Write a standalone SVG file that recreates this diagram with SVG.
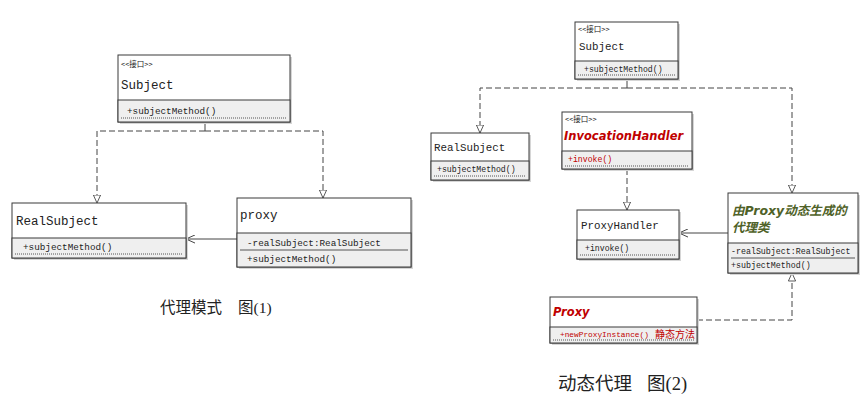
<svg xmlns="http://www.w3.org/2000/svg" width="866" height="407" viewBox="0 0 866 407">
<defs>
<style>
.bx{fill:#ffffff;stroke:#3a3a3a;stroke-width:1}
.sh{fill:#d6d6d6}
.cp{fill:#efefef;stroke:#3a3a3a;stroke-width:1}
.dl{stroke:#555;stroke-width:1;stroke-dasharray:1 1}
.sl{stroke:#555;stroke-width:1}
.st{font-family:"Noto Sans CJK SC",sans-serif;font-size:7.5px;fill:#222}
.nm{font-family:"Liberation Mono","Noto Sans CJK SC",monospace;fill:#222}
.mt{font-family:"Liberation Mono","Noto Sans CJK SC",monospace;fill:#222}
.bi{font-family:"DejaVu Sans","Noto Sans CJK SC",sans-serif;font-weight:bold;font-style:italic}
.red{fill:#c00000}
.grn{fill:#4f6228}
.cap{font-family:"Liberation Serif","Noto Sans CJK SC",serif;fill:#222}
.dash{fill:none;stroke:#444;stroke-width:1;stroke-dasharray:6 3}
.sol{fill:none;stroke:#444;stroke-width:1}
</style>
<marker id="tri" viewBox="0 0 10 10" refX="10" refY="5" markerWidth="9" markerHeight="8" markerUnits="userSpaceOnUse" orient="auto">
<path d="M0,0.5 L10,5 L0,9.5 z" fill="#fff" stroke="#444" stroke-width="1.1"/>
</marker>
<marker id="open" viewBox="0 0 10 10" refX="10" refY="5" markerWidth="11" markerHeight="9" markerUnits="userSpaceOnUse" orient="auto">
<path d="M0,0.5 L10,5 L0,9.5" fill="none" stroke="#444" stroke-width="1.1"/>
</marker>
</defs>
<rect width="866" height="407" fill="#ffffff"/>

<g id="connectors">
<path class="sol" d="M205,122 V131"/>
<path class="dash" d="M205,131 H97 V203" marker-end="url(#tri)"/>
<path class="dash" d="M205,131 H323 V198" marker-end="url(#tri)"/>
<path class="sol" d="M237,239 H186" marker-end="url(#open)"/>
<path class="sol" d="M627,79 V88"/>
<path class="dash" d="M627,88 H480 V133" marker-end="url(#tri)"/>
<path class="dash" d="M627,88 H792 V193" marker-end="url(#tri)"/>
<path class="dash" d="M627,169 V210" marker-end="url(#tri)"/>
<path class="sol" d="M728,233 H679" marker-end="url(#open)"/>
<path class="dash" d="M697,320 H792 V273" marker-end="url(#tri)"/>
</g>

<g id="subject1">
<rect class="sh" x="120" y="57" width="172" height="67"/>
<rect class="bx" x="118" y="55" width="172" height="67"/>
<rect class="cp" x="118" y="100" width="172" height="22"/>
<line class="dl" x1="121" y1="118" x2="287" y2="118"/>
<text class="st" x="121" y="67">&lt;&lt;接口&gt;&gt;</text>
<text class="nm" x="121" y="89" font-size="12.5">Subject</text>
<text class="mt" x="127" y="114" font-size="9.3">+subjectMethod()</text>
</g>

<g id="realsubject1">
<rect class="sh" x="14" y="205" width="174" height="55"/>
<rect class="bx" x="12" y="203" width="174" height="55"/>
<rect class="cp" x="12" y="238" width="174" height="20"/>
<line class="dl" x1="15" y1="254" x2="183" y2="254"/>
<text class="nm" x="16" y="225" font-size="12.5">RealSubject</text>
<text class="mt" x="23" y="250" font-size="9.3">+subjectMethod()</text>
</g>

<g id="proxy1">
<rect class="sh" x="239" y="200" width="174" height="69"/>
<rect class="bx" x="237" y="198" width="174" height="69"/>
<rect class="cp" x="237" y="233" width="174" height="34"/>
<line class="sl" x1="240" y1="250" x2="408" y2="250"/>
<text class="nm" x="240" y="219" font-size="12.5">proxy</text>
<text class="mt" x="247" y="246" font-size="9.3">-realSubject:RealSubject</text>
<text class="mt" x="247" y="262" font-size="9.3">+subjectMethod()</text>
</g>

<text id="caption1" class="cap" x="160" y="313" font-size="15.5">代理模式<tspan x="238">图(1)</tspan></text>

<g id="subject2">
<rect class="sh" x="577" y="24" width="103" height="57"/>
<rect class="bx" x="575" y="22" width="103" height="57"/>
<rect class="cp" x="575" y="61" width="103" height="18"/>
<line class="dl" x1="578" y1="75" x2="675" y2="75"/>
<text class="st" x="578" y="32">&lt;&lt;接口&gt;&gt;</text>
<text class="nm" x="579" y="50" font-size="10.8">Subject</text>
<text class="mt" x="584" y="72" font-size="8.2">+subjectMethod()</text>
</g>

<g id="realsubject2">
<rect class="sh" x="433" y="135" width="98" height="47"/>
<rect class="bx" x="431" y="133" width="98" height="47"/>
<rect class="cp" x="431" y="161" width="98" height="19"/>
<line class="dl" x1="434" y1="176" x2="526" y2="176"/>
<text class="nm" x="434" y="151" font-size="10.8">RealSubject</text>
<text class="mt" x="437" y="172" font-size="8.2">+subjectMethod()</text>
</g>

<g id="invocationhandler">
<rect class="sh" x="564" y="114" width="130" height="57"/>
<rect class="bx" x="562" y="112" width="130" height="57"/>
<rect class="cp" x="562" y="151" width="130" height="18"/>
<line class="dl" x1="565" y1="166" x2="689" y2="166"/>
<text class="st" x="565" y="122">&lt;&lt;接口&gt;&gt;</text>
<text class="bi red" x="564" y="140" font-size="11.5">InvocationHandler</text>
<text class="mt red" x="568" y="162" font-size="8.2">+invoke()</text>
</g>

<g id="proxyhandler">
<rect class="sh" x="579" y="212" width="102" height="49"/>
<rect class="bx" x="577" y="210" width="102" height="49"/>
<rect class="cp" x="577" y="240" width="102" height="19"/>
<line class="dl" x1="580" y1="255" x2="676" y2="255"/>
<text class="nm" x="581" y="229" font-size="10.8">ProxyHandler</text>
<text class="mt" x="585" y="251" font-size="8.2">+invoke()</text>
</g>

<g id="generatedproxy">
<rect class="sh" x="730" y="195" width="130" height="80"/>
<rect class="bx" x="728" y="193" width="130" height="80"/>
<rect class="cp" x="728" y="243" width="130" height="30"/>
<line class="sl" x1="731" y1="258" x2="855" y2="258"/>
<text class="bi grn" x="732" y="215" font-size="12.5">由Proxy动态生成的</text>
<text class="bi grn" x="732" y="232" font-size="12.5">代理类</text>
<text class="mt" x="731" y="254" font-size="8.3">-realSubject:RealSubject</text>
<text class="mt" x="731" y="268" font-size="8.3">+subjectMethod()</text>
</g>

<g id="proxyclass">
<rect class="sh" x="552" y="299" width="147" height="46"/>
<rect class="bx" x="550" y="297" width="147" height="46"/>
<rect class="cp" x="550" y="327" width="147" height="16"/>
<line class="dl" x1="553" y1="340" x2="694" y2="340"/>
<text class="bi red" x="553" y="316" font-size="11.5">Proxy</text>
<text class="mt red" x="560" y="337" font-size="7.8">+newProxyInstance()</text>
<text class="red" x="655" y="338" font-size="10" font-family="Noto Sans CJK SC, sans-serif">静态方法</text>
</g>

<text id="caption2" class="cap" x="558" y="390" font-size="18.5">动态代理<tspan x="647">图(2)</tspan></text>
</svg>
